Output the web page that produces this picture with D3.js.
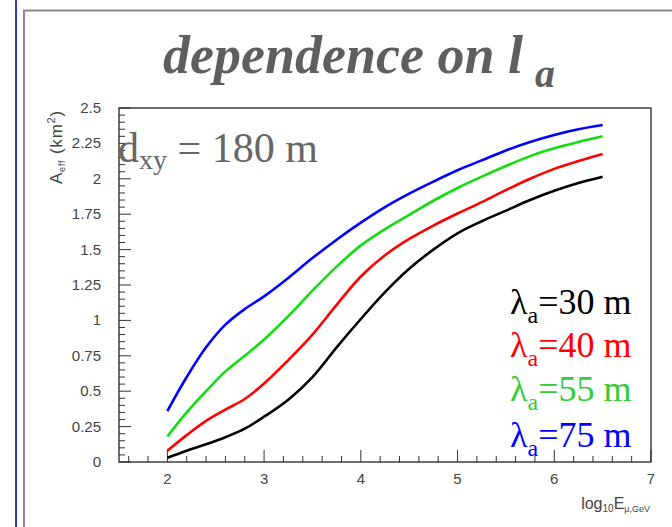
<!DOCTYPE html>
<html><head><meta charset="utf-8">
<script src="https://cdn.jsdelivr.net/npm/d3@7"></script>
<style>body{margin:0;background:#fff;}svg{display:block;}</style>
</head><body>
<script>
// ---- data ----
const xValues = [2.0, 2.2, 2.4, 2.6, 2.8, 3.0, 3.25, 3.5, 3.75, 4.0, 4.25, 4.5, 4.75, 5.0, 5.25, 5.5, 5.75, 6.0, 6.25, 6.5];
const lambda30 = [0.03, 0.08, 0.125, 0.175, 0.235, 0.32, 0.44, 0.60, 0.81, 1.01, 1.20, 1.365, 1.50, 1.615, 1.70, 1.775, 1.85, 1.915, 1.97, 2.015];
const lambda40 = [0.08, 0.19, 0.29, 0.37, 0.445, 0.555, 0.72, 0.90, 1.11, 1.31, 1.46, 1.575, 1.67, 1.755, 1.835, 1.92, 2.00, 2.07, 2.125, 2.175];
const lambda55 = [0.18, 0.35, 0.50, 0.64, 0.75, 0.865, 1.03, 1.21, 1.38, 1.53, 1.645, 1.745, 1.845, 1.935, 2.015, 2.09, 2.16, 2.215, 2.26, 2.30];
const lambda75 = [0.36, 0.60, 0.81, 0.97, 1.08, 1.17, 1.30, 1.44, 1.57, 1.69, 1.80, 1.895, 1.98, 2.06, 2.13, 2.20, 2.26, 2.31, 2.35, 2.38];
const seriesNames = ["30 m", "40 m", "55 m", "75 m"];
const seriesColors = ["#000000", "#ff0000", "#11dd11", "#0000ff"];
const legendColors = ["#000000", "#ff0000", "#33cc33", "#0000ff"];
const xTicks = [2, 3, 4, 5, 6, 7];
const yTicks = [0, 0.25, 0.5, 0.75, 1, 1.25, 1.5, 1.75, 2, 2.25, 2.5];
const yTickLabels = ["0", "0.25", "0.5", "0.75", "1", "1.25", "1.5", "1.75", "2", "2.25", "2.5"];

const W = 672, H = 527;
const svg = d3.select("body").append("svg").attr("width", W).attr("height", H);

// slide decorations
svg.append("rect").attr("x", 0).attr("y", 0).attr("width", W).attr("height", H).attr("fill", "#fff");
svg.append("line").attr("x1", 16).attr("x2", 16).attr("y1", 0).attr("y2", H).attr("stroke", "#2a3bd0").attr("stroke-width", 2);
svg.append("path").attr("d", `M24,${H} V10.5 H${W}`).attr("fill", "none").attr("stroke", "#8a8a8a").attr("stroke-width", 2);

// title
const title = svg.append("text").attr("x", 163).attr("y", 73)
  .attr("font-family", "Liberation Serif, serif").attr("font-weight", "bold").attr("font-style", "italic")
  .attr("font-size", 54).attr("fill", "#5e5e5e");
title.append("tspan").text("dependence on l");
title.append("tspan").attr("font-size", 40).attr("dx", 12).attr("dy", 14).text("a");

const x = d3.scaleLinear().domain([1.5, 7]).range([119, 651]);
const y = d3.scaleLinear().domain([0, 2.5]).range([462, 108]);

// frame
svg.append("rect").attr("x", 119).attr("y", 108).attr("width", 532).attr("height", 354)
  .attr("fill", "none").attr("stroke", "#222").attr("stroke-width", 1.3);

const axisColor = "#333";
// x axis ticks (inside, pointing up)
const xMinor = d3.range(1.6, 7.0001, 0.2).filter(v => Math.abs(v - Math.round(v)) > 1e-6);
const xa = svg.append("g").attr("transform", "translate(0,462)");
xa.selectAll("line.mn").data(xMinor).join("line").attr("x1", d => x(d)).attr("x2", d => x(d)).attr("y1", 0).attr("y2", -6).attr("stroke", axisColor);
xa.selectAll("line.mj").data(xTicks).join("line").attr("x1", d => x(d)).attr("x2", d => x(d)).attr("y1", 0).attr("y2", -12).attr("stroke", axisColor);
xa.selectAll("text").data(xTicks).join("text").attr("x", d => x(d)).attr("y", 22).attr("text-anchor", "middle")
  .attr("font-family", "Liberation Sans, Arial, sans-serif").attr("font-size", 15).attr("fill", "#444").text(d => d);

// y axis ticks (inside, pointing right)
const yMinor = d3.range(0.05, 2.5, 0.05).filter(v => Math.abs(v / 0.25 - Math.round(v / 0.25)) > 1e-6);
const ya = svg.append("g").attr("transform", "translate(119,0)");
ya.selectAll("line.mn").data(yMinor).join("line").attr("y1", d => y(d)).attr("y2", d => y(d)).attr("x1", 0).attr("x2", 6).attr("stroke", axisColor);
ya.selectAll("line.mj").data(yTicks).join("line").attr("y1", d => y(d)).attr("y2", d => y(d)).attr("x1", 0).attr("x2", 12).attr("stroke", axisColor);
ya.selectAll("text").data(yTicks).join("text").attr("x", -18).attr("y", d => y(d) + 5).attr("text-anchor", "end")
  .attr("font-family", "Liberation Sans, Arial, sans-serif").attr("font-size", 15).attr("fill", "#444").text((d, i) => yTickLabels[i]);

// axis titles
const yt = svg.append("text").attr("transform", "translate(62,110) rotate(-90)").attr("text-anchor", "end")
  .attr("font-family", "Liberation Sans, Arial, sans-serif").attr("font-size", 17).attr("letter-spacing", 0.8).attr("fill", "#444");
yt.append("tspan").text("A");
yt.append("tspan").attr("font-size", 9).attr("dy", 3).text("eff");
yt.append("tspan").attr("dy", -3).text(" (km");
yt.append("tspan").attr("font-size", 11).attr("dy", -7).text("2");
yt.append("tspan").attr("dy", 7).text(")");

const xt = svg.append("text").attr("x", 650).attr("y", 509).attr("text-anchor", "end")
  .attr("font-family", "Liberation Sans, Arial, sans-serif").attr("font-size", 16).attr("fill", "#444");
xt.append("tspan").text("log");
xt.append("tspan").attr("font-size", 10).attr("dy", 3).text("10");
xt.append("tspan").attr("dy", -3).text("E");
xt.append("tspan").attr("font-size", 9).attr("dy", 3).text("μ,GeV");

// curves
const allSeries = [lambda30, lambda40, lambda55, lambda75];
const line = d3.line().x((d, i) => x(xValues[i])).y(d => y(d)).curve(d3.curveCatmullRom.alpha(0.5));
svg.append("g").selectAll("path").data(allSeries).join("path")
  .attr("d", d => line(d)).attr("fill", "none").attr("stroke", (d, i) => seriesColors[i]).attr("stroke-width", 2.6);

// dxy annotation
const dxy = svg.append("text").attr("x", 118).attr("y", 162)
  .attr("font-family", "Liberation Serif, serif").attr("font-size", 42).attr("fill", "#666");
dxy.append("tspan").text("d");
dxy.append("tspan").attr("font-size", 28).attr("dy", 7).text("xy");
dxy.append("tspan").attr("dy", -7).text(" = 180 m");

// legend
const legBase = [314, 357, 401, 447];
const lg = svg.append("g");
seriesNames.forEach((name, i) => {
  const t = lg.append("text").attr("x", 510).attr("y", legBase[i])
    .attr("font-family", "Liberation Serif, serif").attr("font-size", 36).attr("fill", legendColors[i]);
  t.append("tspan").text("λ");
  t.append("tspan").attr("font-size", 24).attr("dy", 9).text("a");
  t.append("tspan").attr("dy", -9).text("=" + name);
});
</script>
</body></html>
